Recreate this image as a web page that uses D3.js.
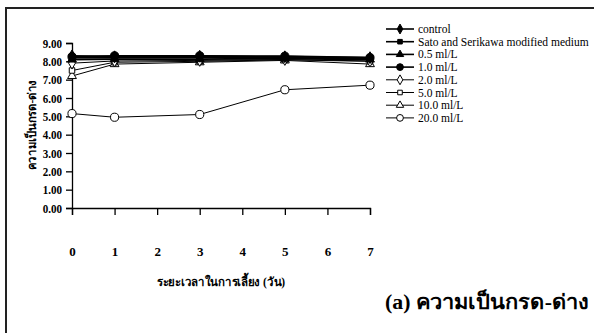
<!DOCTYPE html>
<html>
<head>
<meta charset="utf-8">
<script src="https://cdn.jsdelivr.net/npm/d3@7"></script>
<style>
  body { margin: 0; background: #fff; }
</style>
</head>
<body>
<div id="chart"></div>
<script>
// days on the x axis
var days = [0, 1, 3, 5, 7];
var xTicks = [0, 1, 2, 3, 4, 5, 6, 7];
var yTicks = [0, 1, 2, 3, 4, 5, 6, 7, 8, 9];

var seriesNames = ['control', 'Sato and Serikawa modified medium', '0.5 ml/L', '1.0 ml/L',
  '2.0 ml/L', '5.0 ml/L', '10.0 ml/L', '20.0 ml/L'];
var control = [8.30, 8.25, 8.28, 8.25, 8.20];
var sato = [8.20, 8.20, 8.22, 8.20, 8.15];
var ml05 = [8.10, 8.12, 8.12, 8.15, 8.10];
var ml10 = [8.25, 8.30, 8.30, 8.28, 8.20];
var ml20 = [7.90, 8.02, 8.05, 8.10, 8.02];
var ml50 = [7.50, 7.95, 8.00, 8.08, 8.00];
var ml100 = [7.20, 7.85, 7.95, 8.05, 7.85];
var ml200 = [5.15, 4.95, 5.10, 6.45, 6.70];
var seriesValues = [control, sato, ml05, ml10, ml20, ml50, ml100, ml200];
var markerTypes = ['diamond', 'square', 'triangle', 'circle', 'diamond', 'square', 'triangle', 'circle'];
var markerFilled = [true, true, true, true, false, false, false, false];

var FONT = '"Liberation Serif"';
var W = 594, H = 333;
var svg = d3.select('#chart').append('svg').attr('width', W).attr('height', H);

// outer frame
svg.append('rect').attr('x', 6).attr('y', 8).attr('width', W).attr('height', H)
  .attr('fill', 'none').attr('stroke', '#222').attr('stroke-width', 2);

var x = d3.scaleLinear().domain([0, 7]).range([72, 370]);
var y = d3.scaleLinear().domain([0, 9]).range([208, 43]);

function symbolFor(t) {
  if (t === 'diamond') return d3.symbolDiamond;
  if (t === 'square') return d3.symbolSquare;
  if (t === 'triangle') return d3.symbolTriangle;
  return d3.symbolCircle;
}
function symbolSize(t, small) {
  var k = small ? 0.7 : 1;
  if (t === 'diamond') return 40 * k;
  if (t === 'square') return 30 * k;
  if (t === 'triangle') return 34 * k;
  return 52 * k;
}

// axes
var yAxis = d3.axisLeft(y).tickValues(yTicks).tickSize(6).tickPadding(4)
  .tickFormat(d3.format('.2f'));
var yg = svg.append('g').attr('transform', 'translate(72,0)').call(yAxis);
yg.selectAll('text').style('font-family', FONT).style('font-size', '13px').style('font-weight', 'bold')
  .attr('transform', 'scale(0.85,1)').attr('x', -10 / 0.85);

var xAxis = d3.axisBottom(x).tickValues(xTicks).tickSize(7).tickPadding(32)
  .tickFormat(d3.format('d'));
var xg = svg.append('g').attr('transform', 'translate(0,208)').call(xAxis);
xg.selectAll('text').style('font-family', FONT).style('font-size', '13px').style('font-weight', 'bold');
svg.selectAll('.domain, .tick line').attr('stroke', '#000').attr('stroke-width', 1.3);

// axis titles
svg.append('text').attr('x', 221).attr('y', 286).attr('text-anchor', 'middle')
  .style('font-family', FONT).style('font-size', '12px').style('font-weight', 'bold')
  .attr('textLength', 128).attr('lengthAdjust', 'spacingAndGlyphs')
  .text('ระยะเวลาในการเลี้ยง (วัน)');
svg.append('text').attr('transform', 'translate(36,125) rotate(-90)').attr('text-anchor', 'middle')
  .style('font-family', FONT).style('font-size', '12px').style('font-weight', 'bold')
  .attr('textLength', 90).attr('lengthAdjust', 'spacingAndGlyphs')
  .text('ความเป็นกรด-ด่าง');

// lines and markers, drawn back to front
var line = d3.line().x(function (d, i) { return x(days[i]); }).y(function (d) { return y(d); });
d3.range(seriesValues.length - 1, -1, -1).forEach(function (s) {
  var g = svg.append('g');
  g.append('path').datum(seriesValues[s]).attr('d', line).attr('fill', 'none')
    .attr('stroke', '#000').attr('stroke-width', markerFilled[s] ? 1.8 : 1);
  g.selectAll('path.m').data(seriesValues[s]).enter().append('path').attr('class', 'm')
    .attr('d', d3.symbol().type(symbolFor(markerTypes[s])).size(symbolSize(markerTypes[s])))
    .attr('transform', function (d, i) { return 'translate(' + x(days[i]) + ',' + y(d) + ')'; })
    .attr('fill', markerFilled[s] ? '#000' : '#fff').attr('stroke', '#000').attr('stroke-width', 1);
});

// legend
var legend = svg.append('g').attr('transform', 'translate(386,29)');
seriesNames.forEach(function (name, i) {
  var row = legend.append('g').attr('transform', 'translate(0,' + (i * 12.7) + ')');
  row.append('line').attr('x1', 0).attr('x2', 28).attr('y1', 0).attr('y2', 0)
    .attr('stroke', '#000').attr('stroke-width', markerFilled[i] ? 1.6 : 1);
  row.append('path')
    .attr('d', d3.symbol().type(symbolFor(markerTypes[i])).size(symbolSize(markerTypes[i], true)))
    .attr('transform', 'translate(14,0)')
    .attr('fill', markerFilled[i] ? '#000' : '#fff').attr('stroke', '#000');
  row.append('text').attr('y', 4)
    .style('font-family', FONT).style('font-size', '12px')
    .attr('transform', 'scale(0.96,1)').attr('x', 32 / 0.96)
    .text(name);
});

// panel caption
svg.append('text').attr('x', 589).attr('y', 309).attr('text-anchor', 'end')
  .style('font-family', FONT).style('font-size', '20px').style('font-weight', 'bold')
  .attr('textLength', 204).attr('lengthAdjust', 'spacingAndGlyphs')
  .text('(a) ความเป็นกรด-ด่าง');
</script>
</body>
</html>
